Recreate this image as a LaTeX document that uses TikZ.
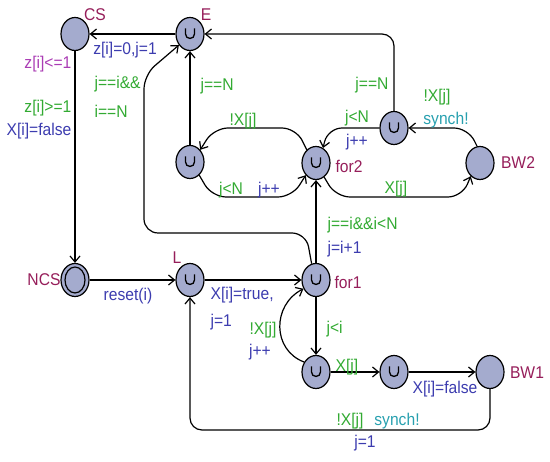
\documentclass[tikz,border=0pt]{standalone}
\usepackage{fontspec}
\setmainfont{Liberation Sans}[FakeStretch=0.92]
\usetikzlibrary{shapes.geometric,arrows.meta}

\definecolor{locfill}{RGB}{164,171,206}
\definecolor{namecol}{RGB}{150,30,90}
\definecolor{guardcol}{RGB}{50,170,50}
\definecolor{assigncol}{RGB}{60,60,175}
\definecolor{invcol}{RGB}{170,60,180}
\definecolor{synccol}{RGB}{40,160,175}

\begin{document}
\begin{tikzpicture}[x=1pt, y=-1pt, line width=1.2pt,
    >={Straight Barb[length=6pt,width=10pt]},
    every node/.style = {font=\fontsize{17}{20}\selectfont, inner sep=0pt},
    loc/.style = {draw, ellipse, fill=locfill, minimum width=28pt, minimum height=33pt},
    urg/.style = {loc, path picture={\draw[line width=1.3pt]
        ([xshift=-4.5pt,yshift=5.5pt]path picture bounding box.center) -- ++(0,-5.5pt)
        arc (180:360:4.5pt) -- ++(0,5.5pt);}},
    init/.style = {loc, path picture={\draw
        (path picture bounding box.center) ellipse (10pt and 13pt);}},
    lname/.style = {text=namecol},
    guard/.style = {text=guardcol},
    assign/.style = {text=assigncol},
    inv/.style = {text=invcol},
    sync/.style = {text=synccol}]
  \useasboundingbox (0,0) rectangle (550,462);

  % locations
  \node[loc] (CS) at (75,34) {};
  \node[urg] (E) at (190,34) {};
  \node[urg] (u1) at (190,162) {};
  \node[urg] (for2) at (316,163) {};
  \node[urg] (u2) at (394,128) {};
  \node[loc] (BW2) at (480,163) {};
  \node[init] (NCS) at (75,280) {};
  \node[urg] (L) at (190,280) {};
  \node[urg] (for1) at (316,280) {};
  \node[urg] (u3) at (316,372) {};
  \node[urg] (u4) at (394,372) {};
  \node[loc] (BW1) at (490,372) {};

  % location names
  \node[lname] (nCS) at (95,15) {CS};
  \node[lname] (nE) at (206,15) {E};
  \node[lname] (nfor2) at (349,166) {for2};
  \node[lname] (nBW2) at (518,163) {BW2};
  \node[lname] (nNCS) at (44,280) {NCS};
  \node[lname] (nL) at (177,258) {L};
  \node[lname] (nfor1) at (348,282) {for1};
  \node[lname] (nBW1) at (527,373) {BW1};

  % edges
  \draw[->] (E) -- (CS);
  \draw[->] (CS) -- (NCS);
  \draw[->] (NCS) -- (L);
  \draw[->] (L) -- (for1);
  \draw[->, rounded corners=14pt] (for1.105) -- (306,233) -- (144,233) -- (144,75) -- (E.225);
  \draw[->] (for1) -- (for2);
  \draw[->] (for1) -- (u3);
  \draw[->] (u3.140) .. controls (272,350) and (272,305) .. (for1.215);
  \draw[->] (u3) -- (u4);
  \draw[->] (u4) -- (BW1);
  \draw[->, rounded corners=12pt] (BW1.south) -- (490,430) -- (190,430) -- (L.south);
  \draw[->, rounded corners=12pt] (u2.north) -- (394,34) -- (E.east);
  \draw[->] (u1) -- (E);
  \draw[->, rounded corners=14pt] (u2.west) -- (328,128) -- (for2.65);
  \draw[->, rounded corners=14pt] (BW2.100) -- (468,128) -- (u2.east);
  \draw[->, rounded corners=14pt] (for2.-60) -- (336,197) -- (462,197) -- (BW2.235);
  \draw[->, rounded corners=14pt] (for2.125) -- (296,128) -- (214,128) -- (u1.50);
  \draw[->, rounded corners=14pt] (u1.-55) -- (212,197) -- (292,197) -- (for2.230);

  % edge labels
  \node[assign] (a1) at (125,50) {z[i]=0,j=1};
  \node[inv, anchor=east] (i1) at (72,64) {z[i]<=1};
  \node[guard, anchor=east] (g1) at (72,108) {z[i]>=1};
  \node[assign, anchor=east] (a2) at (72,131) {X[i]=false};
  \node[guard, anchor=west] (g2) at (94,84) {j==i\&\&};
  \node[guard, anchor=west] (g3) at (94,111) {i==N};
  \node[guard, anchor=west] (g4) at (200,86) {j==N};
  \node[guard] (g5) at (243,121) {!X[j]};
  \node[guard] (g6) at (231,190) {j<N};
  \node[assign] (a3) at (269,190) {j++};
  \node[guard] (g7) at (396,189) {X[j]};
  \node[guard] (g8) at (437,97) {!X[j]};
  \node[sync] (s1) at (446,120) {synch!};
  \node[guard] (g9) at (357,118) {j<N};
  \node[assign] (a4) at (357,142) {j++};
  \node[guard] (g10) at (372,85) {j==N};
  \node[guard, anchor=west] (g11) at (327,225) {j==i\&\&i<N};
  \node[assign, anchor=west] (a5) at (327,249) {j=i+1};
  \node[guard, anchor=west] (g12) at (326,329) {j<i};
  \node[guard] (g13) at (263,330) {!X[j]};
  \node[assign] (a6) at (260,352) {j++};
  \node[assign, anchor=west] (a7) at (210,295) {X[i]=true,};
  \node[assign, anchor=west] (a8) at (210,322) {j=1};
  \node[assign] (a9) at (128,296) {reset(i)};
  \node[guard] (g14) at (347,367) {X[j]};
  \node[assign] (a10) at (445,389) {X[i]=false};
  \node[guard] (g15) at (350,421) {!X[j]};
  \node[sync] (s2) at (397,421) {synch!};
  \node[assign] (a11) at (365,443) {j=1};
\end{tikzpicture}
\end{document}
